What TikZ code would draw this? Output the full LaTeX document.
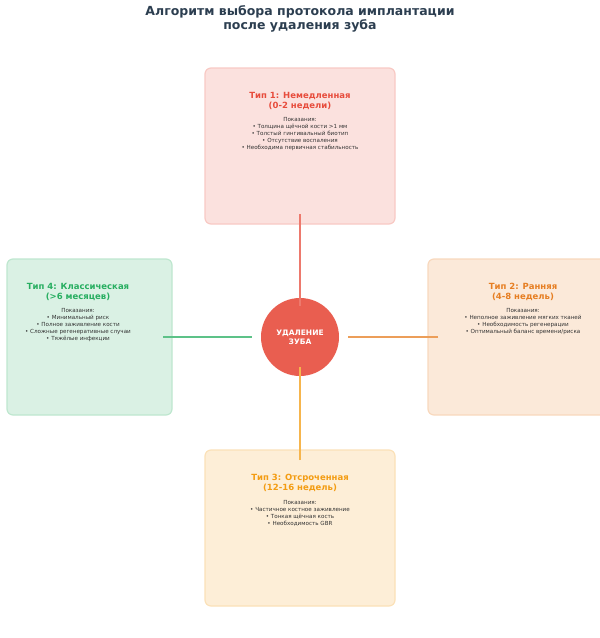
\documentclass[tikz,border=0pt]{standalone}
\usepackage{fontspec}
\setmainfont{DejaVu Sans}
\definecolor{cRed}{HTML}{E74C3C}
\definecolor{cOrange}{HTML}{E67E22}
\definecolor{cYellow}{HTML}{F39C12}
\definecolor{cGreen}{HTML}{27AE60}
\definecolor{cTitle}{HTML}{2C3E50}
\definecolor{cText}{HTML}{333333}
\tikzset{
  box/.style={draw=#1!30, fill=#1!17, line width=1.2pt, rounded corners=6pt,
    minimum width=190pt, minimum height=156pt},
  head/.style={text=#1, font=\fontsize{8.5}{10}\selectfont\bfseries, align=center},
  body/.style={text=cText, font=\fontsize{5.6}{7}\selectfont, align=center},
  link/.style={draw=#1!75, line width=1.3pt}
}
\begin{document}
\begin{tikzpicture}[x=1pt,y=-1pt]
\useasboundingbox (0,0) rectangle (600,638);
\clip (0,0) rectangle (600,638);
% title
\node[text=cTitle, font=\fontsize{12.5}{14}\selectfont\bfseries, align=center] (title) at (300,19)
  {Алгоритм выбора протокола имплантации\\после удаления зуба};
% boxes
\node[box=cRed] (t1) at (300,146) {};
\node[box=cOrange] (t2) at (523,337) {};
\node[box=cYellow] (t3) at (300,528) {};
\node[box=cGreen, minimum width=165pt] (t4) at (89.5,337) {};
% texts
\node[head=cRed] (h1) at (300,101) {Тип 1: Немедленная\\(0-2 недели)};
\node[body] (b1) at (300,134) {Показания:\\• Толщина щёчной кости >1 мм\\• Толстый гингивальный биотип\\• Отсутствие воспаления\\• Необходима первичная стабильность};
\node[head=cOrange] (h2) at (523,292) {Тип 2: Ранняя\\(4-8 недель)};
\node[body] (b2) at (523,322) {Показания:\\• Неполное заживление мягких тканей\\• Необходимость регенерации\\• Оптимальный баланс времени/риска};
\node[head=cYellow] (h3) at (300,483) {Тип 3: Отсроченная\\(12-16 недель)};
\node[body] (b3) at (300,513) {Показания:\\• Частичное костное заживление\\• Тонкая щёчная кость\\• Необходимость GBR};
\node[head=cGreen] (h4) at (78,292) {Тип 4: Классическая\\(>6 месяцев)};
\node[body] (b4) at (78,325) {Показания:\\• Минимальный риск\\• Полное заживление кости\\• Сложные регенеративные случаи\\• Тяжёлые инфекции};
% centre
\node[circle, fill=cRed!90!white, minimum size=78pt, text=white,
  font=\fontsize{7.5}{9}\selectfont\bfseries, align=center] (tooth) at (300,337) {УДАЛЕНИЕ\\ЗУБА};
% links
\coordinate (e1) at (300,214);
\coordinate (e2) at (438,337);
\coordinate (e3) at (300,460);
\coordinate (e4) at (163,337);
\draw[link=cRed] (e1) -- ([yshift=-8pt]tooth.north);
\draw[link=cOrange] (e2) -- ([xshift=9pt]tooth.east);
\draw[link=cYellow] (e3) -- ([yshift=9pt]tooth.south);
\draw[link=cGreen] (e4) -- ([xshift=-9pt]tooth.west);
\end{tikzpicture}
\end{document}
